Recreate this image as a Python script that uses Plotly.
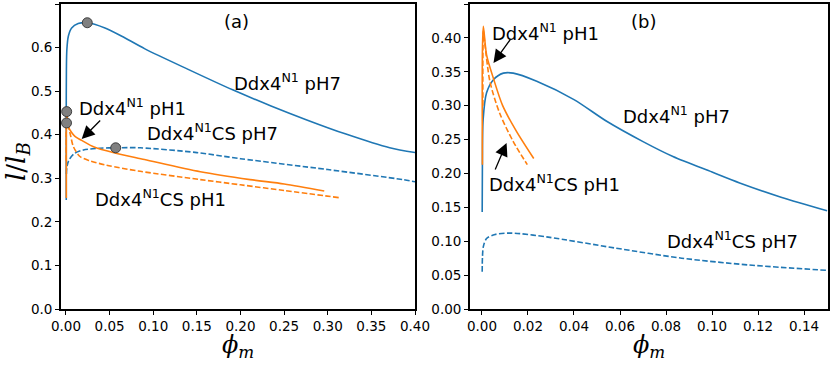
import plotly.graph_objects as go

# ---------------- data ----------------
# Panel (a)
a_n1_ph7_phi = [0.0003, 0.0003, 0.0005, 0.001, 0.0027, 0.0065, 0.014, 0.0244, 0.0447, 0.064, 0.0905, 0.14, 0.191, 0.235, 0.276, 0.32, 0.371, 0.40]
a_n1_ph7_l   = [0.250, 0.450, 0.550, 0.595, 0.626, 0.645, 0.655, 0.657, 0.645, 0.626, 0.597, 0.550, 0.503, 0.466, 0.434, 0.402, 0.370, 0.359]

a_n1_ph1_phi = [0.0004, 0.0004, 0.0008, 0.0027, 0.0065, 0.0103, 0.018, 0.033, 0.056, 0.09, 0.154, 0.211, 0.25, 0.296]
a_n1_ph1_l   = [0.255, 0.400, 0.453, 0.419, 0.405, 0.396, 0.387, 0.371, 0.358, 0.343, 0.315, 0.297, 0.287, 0.271]

a_cs_ph7_phi = [0.0005, 0.001, 0.003, 0.009, 0.02, 0.039, 0.057, 0.085, 0.15, 0.2, 0.3, 0.386, 0.40]
a_cs_ph7_l   = [0.310, 0.325, 0.340, 0.356, 0.365, 0.369, 0.370, 0.370, 0.359, 0.345, 0.320, 0.297, 0.292]

a_cs_ph1_phi = [0.0003, 0.0003, 0.0006, 0.0046, 0.0084, 0.016, 0.0275, 0.0466, 0.085, 0.154, 0.2, 0.25, 0.315]
a_cs_ph1_l   = [0.340, 0.400, 0.427, 0.404, 0.373, 0.350, 0.340, 0.330, 0.316, 0.297, 0.285, 0.272, 0.255]

crit_phi = [0.0244, 0.0008, 0.0006, 0.057]
crit_l   = [0.657, 0.453, 0.427, 0.370]

# Panel (b)
b_n1_ph7_phi = [0.0001, 0.0002, 0.0005, 0.002, 0.0049, 0.0093, 0.0136, 0.0238, 0.04, 0.0542, 0.07, 0.083, 0.1, 0.112, 0.13, 0.15]
b_n1_ph7_l   = [0.143, 0.220, 0.279, 0.319, 0.338, 0.348, 0.348, 0.336, 0.309, 0.277, 0.247, 0.225, 0.202, 0.186, 0.165, 0.145]

b_n1_ph1_phi = [0.0002, 0.0002, 0.0006, 0.002, 0.005, 0.009, 0.015, 0.0225]
b_n1_ph1_l   = [0.213, 0.380, 0.417, 0.375, 0.340, 0.300, 0.262, 0.222]

b_cs_ph1_phi = [0.0004, 0.0004, 0.0006, 0.0013, 0.0035, 0.0078, 0.0136, 0.0197]
b_cs_ph1_l   = [0.300, 0.380, 0.410, 0.390, 0.335, 0.288, 0.247, 0.213]

b_cs_ph7_phi = [0.0001, 0.0006, 0.002, 0.0057, 0.0129, 0.0288, 0.0578, 0.0868, 0.1158, 0.15]
b_cs_ph7_l   = [0.055, 0.092, 0.104, 0.110, 0.112, 0.106, 0.090, 0.075, 0.065, 0.057]

a_xticks = [0.0, 0.05, 0.10, 0.15, 0.20, 0.25, 0.30, 0.35, 0.40]
a_yticks = [0.0, 0.1, 0.2, 0.3, 0.4, 0.5, 0.6, 0.7]
b_xticks = [0.0, 0.02, 0.04, 0.06, 0.08, 0.10, 0.12, 0.14]
b_yticks = [0.0, 0.05, 0.10, 0.15, 0.20, 0.25, 0.30, 0.35, 0.40, 0.45]

# ---------------- styling ----------------
BLUE = "#1f77b4"
ORANGE = "#ff7f0e"
DASH = "5.5px,2.4px"
LW = 1.6
FONT = "DejaVu Sans"

W, H = 830, 365
ML, MR, MT, MB = 61, 2, 4, 56
PW = W - ML - MR
PH = H - MT - MB

fig = go.Figure()

def line(x, y, color, dash, xa, ya):
    fig.add_trace(go.Scatter(x=x, y=y, mode="lines", xaxis=xa, yaxis=ya,
                             line=dict(color=color, width=LW, dash=dash, shape="spline", smoothing=0.8),
                             showlegend=False, hoverinfo="skip"))

line(a_n1_ph7_phi, a_n1_ph7_l, BLUE, "solid", "x", "y")
line(a_cs_ph7_phi, a_cs_ph7_l, BLUE, DASH, "x", "y")
line(a_cs_ph1_phi, a_cs_ph1_l, ORANGE, DASH, "x", "y")
line(a_n1_ph1_phi, a_n1_ph1_l, ORANGE, "solid", "x", "y")
fig.add_trace(go.Scatter(x=crit_phi, y=crit_l, mode="markers", xaxis="x", yaxis="y",
                         marker=dict(size=10, color="#808080", line=dict(color="#333333", width=0.9)),
                         showlegend=False, hoverinfo="skip"))

line(b_n1_ph7_phi, b_n1_ph7_l, BLUE, "solid", "x2", "y2")
line(b_cs_ph7_phi, b_cs_ph7_l, BLUE, DASH, "x2", "y2")
line(b_cs_ph1_phi, b_cs_ph1_l, ORANGE, DASH, "x2", "y2")
line(b_n1_ph1_phi, b_n1_ph1_l, ORANGE, "solid", "x2", "y2")

axis_common = dict(showline=True, linecolor="black", linewidth=1.8, mirror=True,
                   ticks="outside", ticklen=4, tickwidth=1, tickcolor="black",
                   showgrid=False, zeroline=False, automargin=False,
                   tickfont=dict(family=FONT, size=13.5, color="black"))

def dom(px0, px1):
    return [(px0 - ML) / PW, (px1 - ML) / PW]

fig.update_layout(
    template="none",
    width=W, height=H, autosize=False,
    margin=dict(l=ML, r=MR, t=MT, b=MB, pad=0),
    paper_bgcolor="white", plot_bgcolor="white",
    xaxis=dict(domain=dom(61, 415), range=[-0.0057, 0.40], tickvals=a_xticks, tickformat=".2f", anchor="y", **axis_common),
    yaxis=dict(domain=[0, 1], range=[0, 0.7], tickvals=a_yticks, tickformat=".1f", anchor="x", **axis_common),
    xaxis2=dict(domain=dom(470, 828), range=[-0.0052, 0.1504], tickvals=b_xticks, tickformat=".2f", anchor="y2", **axis_common),
    yaxis2=dict(domain=[0, 1], range=[0, 0.45], tickvals=b_yticks, tickformat=".2f", anchor="x2", **axis_common),
)

TF = dict(family=FONT, size=18, color="black")

def label(text, x, y, xa, ya, xanchor="left"):
    fig.add_annotation(text=text, x=x, y=y, xref=xa, yref=ya, showarrow=False,
                       xanchor=xanchor, yanchor="middle", font=TF)

def arrow(x, y, ax, ay, xa, ya):
    fig.add_annotation(text="", x=x, y=y, xref=xa, yref=ya, ax=ax, ay=ay,
                       showarrow=True, arrowhead=2, arrowsize=2.0, arrowwidth=1.3,
                       arrowcolor="black")

N1 = "Ddx4<sup>N1</sup>"
# panel (a)
label("(a)", 0.195, 0.66, "x", "y", xanchor="center")
label(N1 + " pH7", 0.190, 0.522, "x", "y")
label(N1 + " pH1", 0.0126, 0.464, "x", "y")
label(N1 + "CS pH7", 0.0905, 0.407, "x", "y")
label(N1 + "CS pH1", 0.031, 0.255, "x", "y")
arrow(0.0180, 0.390, 20, -20, "x", "y")
# panel (b)
label("(b)", 0.070, 0.424, "x2", "y2", xanchor="center")
label(N1 + " pH1", 0.0035, 0.409, "x2", "y2")
label(N1 + " pH7", 0.0604, 0.2867, "x2", "y2")
label(N1 + "CS pH1", 0.0022, 0.186, "x2", "y2")
label(N1 + "CS pH7", 0.0796, 0.102, "x2", "y2")
arrow(0.0050, 0.363, 18, -25, "x2", "y2")
arrow(0.0107, 0.245, -12, 28, "x2", "y2")

# axis titles (as paper annotations)
def px_to_paper(px, py):
    return (px - ML) / PW, (H - MB - py) / PH

TT = dict(family="DejaVu Serif", size=26, color="black")
x0, y0 = px_to_paper(17, 162)
fig.add_annotation(text="<i>l</i>/<i>l</i><sub><i>B</i></sub>", x=x0, y=y0, xref="paper", yref="paper",
                   showarrow=False, textangle=-90, xanchor="center", yanchor="middle", font=TT)
TX = dict(family="DejaVu Serif", size=24, color="black")
for cx in (238, 649):
    xx, yy = px_to_paper(cx, 364)
    fig.add_annotation(text="<i>\u03d5</i><sub><i>m</i></sub>", x=xx, y=yy, xref="paper", yref="paper",
                       showarrow=False, xanchor="center", yanchor="bottom", font=TX)

fig.write_html("out.html", config={"displayModeBar": False},
               post_script="document.body.style.margin='0';document.body.style.overflow='hidden';")
